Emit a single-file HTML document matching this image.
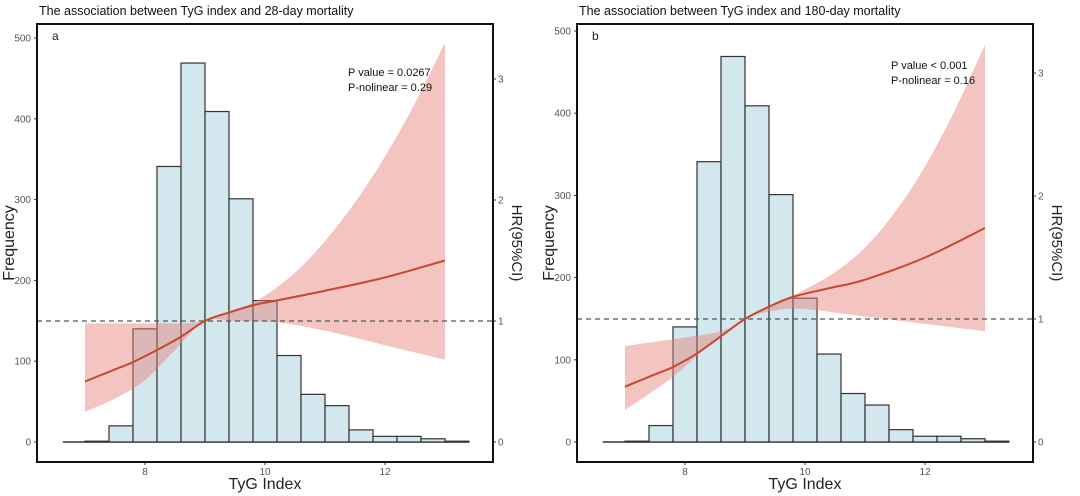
<!DOCTYPE html>
<html><head><meta charset="utf-8"><style>
body{margin:0;background:#fff;}
svg{display:block;font-family:"Liberation Sans",Arial,sans-serif;}
</style></head><body>
<svg id="chart" width="1080" height="496" viewBox="0 0 1080 496" xmlns="http://www.w3.org/2000/svg"></svg>
<script>
// Histogram (shared)
const binEdgesStart = [7.0,7.4,7.8,8.2,8.6,9.0,9.4,9.8,10.2,10.6,11.0,11.4,11.8,12.2,12.6,13.0];
const binWidth = 0.4;
const countsA = [1,20,140,341,469,409,301,175,107,59,45,15,7,7,4,1];
const countsB = [1,20,140,341,469,409,301,175,107,59,45,15,7,7,4,1];
// HR spline
const hrXA = [7,7.5,7.8,8.2,8.6,9,9.4,9.8,10.2,11,12,13];
const hrA = [0.50,0.60,0.66,0.76,0.87,1.0,1.07,1.13,1.17,1.25,1.36,1.50];
const upXA = [7,8.2,8.6,9,9.5,10,10.5,11,11.5,12,12.5,13];
const upA = [0.98,0.98,0.98,1.0,1.08,1.21,1.40,1.66,1.98,2.36,2.80,3.3];
const loXA = [7,7.5,8,8.5,9,9.5,10.2,11,12,13];
const loA = [0.25,0.36,0.51,0.76,1.0,1.0,0.99,0.92,0.80,0.68];
const hrXB = [7,7.5,7.8,8.2,8.6,9,9.4,9.8,10.4,11,12,13];
const hrB = [0.45,0.55,0.61,0.72,0.86,1.0,1.10,1.18,1.25,1.32,1.50,1.74];
const upXB = [7,8,8.6,9,9.5,10,10.5,11,11.5,12,12.5,13];
const upB = [0.78,0.85,0.90,1.0,1.12,1.24,1.38,1.58,1.87,2.24,2.70,3.23];
const loXB = [7,7.8,8.5,9,9.5,10,11,12,13];
const loB = [0.26,0.53,0.83,1.0,1.07,1.08,1.02,0.96,0.90];
const freqTicks = [0,100,200,300,400,500];
const hrTicks = [0,1,2,3];
const xTicks = [8,10,12];

const NS="http://www.w3.org/2000/svg";
const svg=document.getElementById('chart');
function mk(tag,attrs,parent){const e=document.createElementNS(NS,tag);for(const k in attrs)e.setAttribute(k,attrs[k]);(parent||svg).appendChild(e);return e;}
function smooth(pts,start){
  let d=(start?'M':'L')+pts[0][0]+','+pts[0][1];
  for(let i=0;i<pts.length-1;i++){
    const p0=pts[Math.max(0,i-1)],p1=pts[i],p2=pts[i+1],p3=pts[Math.min(pts.length-1,i+2)];
    const c1=[p1[0]+(p2[0]-p0[0])/6,p1[1]+(p2[1]-p0[1])/6];
    const c2=[p2[0]-(p3[0]-p1[0])/6,p2[1]-(p3[1]-p1[1])/6];
    d+=' C'+c1[0]+','+c1[1]+' '+c2[0]+','+c2[1]+' '+p2[0]+','+p2[1];
  }
  return d;
}

function panel(cfg){
  const g=mk('g',{});
  
  
  const ox=cfg.ox;
  const xs=v=>ox+145+(v-8)*60;
  const ys=v=>442-v*cfg.fpx;
  const yh=v=>442-v*cfg.hpx;
  const title=mk('text',{x:ox+39,y:15,'font-size':12.5,fill:'#111'},g);title.textContent=cfg.title;
  
  const bl=mk('line',{x1:xs(6.63),x2:xs(13.4),y1:442,y2:442,stroke:'#333','stroke-width':1.5},g);
  
  cfg.counts.forEach((c,i)=>{
    const x0=xs(binEdgesStart[i]),x1=xs(binEdgesStart[i]+binWidth);
    const r=mk('rect',{x:x0,y:ys(c),width:x1-x0,height:442-ys(c),fill:'#d3e7ee',stroke:'#333','stroke-width':1.2},g);
    
  });
  const upPts=cfg.upX.map((x,i)=>[xs(x),yh(cfg.up[i])]);
  const loPts=cfg.loX.map((x,i)=>[xs(x),yh(cfg.lo[i])]).reverse();
  const d=smooth(upPts,true)+' '+smooth(loPts,false)+' Z';
  const band=mk('path',{d:d,fill:'rgb(228,124,115)','fill-opacity':0.45,stroke:'none'},g);
  
  const dl=mk('line',{x1:ox+37,x2:ox+493,y1:yh(1),y2:yh(1),stroke:'#555','stroke-width':1.3,'stroke-dasharray':'5,4'},g);
  
  const ln=mk('path',{d:smooth(cfg.hrX.map((x,i)=>[xs(x),yh(cfg.hr[i])]),true),fill:'none',stroke:'#c8472e','stroke-width':2},g);
  
  const box=mk('rect',{x:ox+37,y:24,width:456,height:438,fill:'none',stroke:'#111','stroke-width':2},g);
  
  freqTicks.forEach(t=>{
    mk('line',{x1:ox+34,x2:ox+37,y1:ys(t),y2:ys(t),stroke:'#333'},g);
    const tx=mk('text',{x:ox+31,y:ys(t)+3.5,'font-size':10,fill:'#555','text-anchor':'end'},g);tx.textContent=t;
    
  });
  hrTicks.forEach(t=>{
    mk('line',{x1:ox+493,x2:ox+496,y1:yh(t),y2:yh(t),stroke:'#333'},g);
    const tx=mk('text',{x:ox+498,y:yh(t)+3.5,'font-size':10,fill:'#555'},g);tx.textContent=t;
    
  });
  xTicks.forEach(t=>{
    mk('line',{x1:xs(t),x2:xs(t),y1:462,y2:465,stroke:'#333'},g);
    const tx=mk('text',{x:xs(t),y:475,'font-size':10,fill:'#555','text-anchor':'middle'},g);tx.textContent=t;
    
  });
  const xt=mk('text',{x:ox+265,y:489,'font-size':16,fill:'#222','text-anchor':'middle'},g);xt.textContent='TyG Index';
  
  const yt=mk('text',{x:0,y:0,'font-size':16,fill:'#222','text-anchor':'middle',transform:`translate(${ox+14},243) rotate(-90)`},g);yt.textContent='Frequency';
  
  const yr=mk('text',{x:0,y:0,'font-size':15,fill:'#222','text-anchor':'middle',transform:`translate(${ox+512},243) rotate(90)`},g);yr.textContent='HR(95%CI)';
  
  const lb=mk('text',{x:ox+52,y:40,'font-size':12,fill:'#222'},g);lb.textContent=cfg.id;
  
  cfg.notes.forEach((n,i)=>{
    const t=mk('text',{x:ox+cfg.nx,y:cfg.ny+i*15,'font-size':11,fill:'#111'},g);t.textContent=n;
    
  });
}
panel({id:'a',ox:0,fpx:0.808,hpx:121,title:'The association between TyG index and 28-day mortality',counts:countsA,hrX:hrXA,hr:hrA,upX:upXA,up:upA,loX:loXA,lo:loA,notes:['P value = 0.0267','P-nolinear = 0.29'],nx:348,ny:76});
panel({id:'b',ox:540,fpx:0.822,hpx:123,title:'The association between TyG index and 180-day mortality',counts:countsB,hrX:hrXB,hr:hrB,upX:upXB,up:upB,loX:loXB,lo:loB,notes:['P value < 0.001','P-nolinear = 0.16'],nx:351,ny:69});
</script>
</body></html>
